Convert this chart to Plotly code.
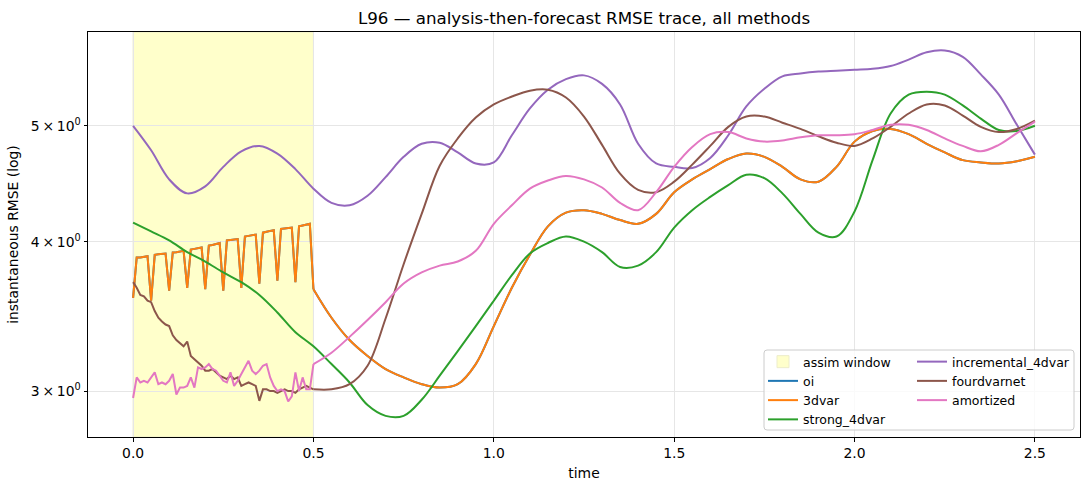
import math
import plotly.graph_objects as go

# ---------------- data ----------------
t_win = [round(0.01 * i, 2) for i in range(51)]        # 0.00 .. 0.50 (dt = 0.01)
t_fc = [round(0.5 + 0.05 * i, 2) for i in range(41)]   # 0.50 .. 2.50
t_all = [round(0.05 * i, 2) for i in range(51)]        # 0.00 .. 2.50

var3d_win = [3.59, 3.88, 3.88, 3.885, 3.89, 3.57, 3.90, 3.905, 3.91, 3.91,
             3.64, 3.918, 3.92, 3.925, 3.93, 3.66, 3.94, 3.945, 3.95, 3.955,
             3.65, 3.97, 3.975, 3.98, 3.99, 3.64, 4.01, 4.013, 4.017, 4.02,
             3.66, 4.04, 4.045, 4.05, 4.055, 3.69, 4.07, 4.077, 4.083, 4.09,
             3.71, 4.10, 4.103, 4.107, 4.11, 3.70, 4.12, 4.127, 4.133, 4.14,
             3.65]
var3d_fc = [3.65, 3.455, 3.31, 3.21, 3.13, 3.08, 3.04, 3.02, 3.04, 3.16,
            3.40, 3.66, 3.90, 4.12, 4.23, 4.25, 4.22, 4.17, 4.14, 4.22,
            4.40, 4.51, 4.60, 4.69, 4.74, 4.71, 4.62, 4.51, 4.49, 4.62,
            4.85, 4.95, 4.97, 4.92, 4.83, 4.75, 4.68, 4.66, 4.65, 4.67,
            4.71]
oi_win = list(var3d_win)
oi_fc = list(var3d_fc)

strong_all = [4.15, 4.08, 4.01, 3.92, 3.85, 3.77, 3.70, 3.61, 3.49, 3.36,
              3.27, 3.16, 3.05, 2.92, 2.86, 2.86, 2.95, 3.09, 3.24, 3.40,
              3.57, 3.75, 3.91, 3.99, 4.04, 4.00, 3.92, 3.81, 3.82, 3.92,
              4.11, 4.25, 4.36, 4.46, 4.55, 4.52, 4.39, 4.22, 4.07, 4.04,
              4.24, 4.68, 5.12, 5.31, 5.34, 5.31, 5.20, 5.07, 4.96, 4.95,
              5.00]

incr_all = [5.00, 4.77, 4.51, 4.39, 4.45, 4.62, 4.76, 4.81, 4.74, 4.60,
            4.43, 4.31, 4.29, 4.37, 4.53, 4.71, 4.83, 4.84, 4.75, 4.65,
            4.66, 4.91, 5.17, 5.36, 5.47, 5.51, 5.42, 5.21, 4.83, 4.65,
            4.62, 4.61, 4.70, 4.91, 5.19, 5.37, 5.50, 5.53, 5.55, 5.56,
            5.57, 5.58, 5.61, 5.68, 5.76, 5.78, 5.71, 5.52, 5.31, 5.01,
            4.73]

fvn_win = [3.70, 3.66, 3.61, 3.60, 3.57, 3.56, 3.50, 3.455, 3.43, 3.41,
           3.40, 3.34, 3.31, 3.29, 3.27, 3.30, 3.21, 3.19, 3.17, 3.15,
           3.12, 3.12, 3.13, 3.11, 3.09, 3.08, 3.07, 3.09, 3.07, 3.08,
           3.03, 3.04, 3.05, 3.04, 3.03, 2.944, 3.01, 3.01, 3.00, 3.00,
           2.99, 3.00, 3.01, 3.00, 3.00, 2.99, 3.01, 3.02, 3.03, 3.02,
           3.01]
fvn_fc = [3.01, 3.01, 3.04, 3.15, 3.45, 3.83, 4.22, 4.63, 4.88, 5.08,
          5.21, 5.29, 5.35, 5.36, 5.28, 5.09, 4.82, 4.56, 4.42, 4.40,
          4.49, 4.64, 4.81, 4.99, 5.09, 5.09, 5.03, 4.97, 4.90, 4.84,
          4.81, 4.88, 4.99, 5.12, 5.21, 5.20, 5.10, 4.99, 4.94, 4.97,
          5.05]

amo_win = [2.96, 3.08, 3.05, 3.06, 3.05, 3.08, 3.11, 3.04, 3.05, 3.04,
           3.06, 3.10, 2.98, 3.02, 3.02, 3.03, 3.08, 3.02, 3.14, 3.13,
           3.14, 3.16, 3.13, 3.12, 3.09, 3.06, 3.05, 3.11, 3.03, 3.06,
           3.10, 3.14, 3.18, 3.12, 3.10, 3.12, 3.15, 3.16, 3.08, 3.03,
           3.00, 3.01, 3.00, 2.94, 2.97, 3.11, 3.00, 3.08, 3.01, 3.01,
           3.16]
amo_fc = [3.16, 3.23, 3.33, 3.44, 3.56, 3.69, 3.77, 3.82, 3.85, 3.93,
          4.14, 4.29, 4.43, 4.50, 4.54, 4.51, 4.44, 4.31, 4.25, 4.40,
          4.62, 4.80, 4.92, 4.94, 4.88, 4.85, 4.86, 4.89, 4.91, 4.91,
          4.92, 4.96, 5.01, 5.01, 4.96, 4.88, 4.81, 4.76, 4.82, 4.93,
          5.04]

assim_window = (0.0, 0.5)
x_ticks = [0.0, 0.5, 1.0, 1.5, 2.0, 2.5]
x_ticktext = ["0.0", "0.5", "1.0", "1.5", "2.0", "2.5"]
y_ticks = [3, 4, 5]
y_ticktext = ["3\u2009×\u200910<sup>0</sup>", "4\u2009×\u200910<sup>0</sup>", "5\u2009×\u200910<sup>0</sup>"]

# ---------------- styling ----------------
FONT = "DejaVu Sans"
C = {"oi": "#1f77b4", "3dvar": "#ff7f0e", "strong_4dvar": "#2ca02c",
     "incremental_4dvar": "#9467bd", "fourdvarnet": "#8c564b", "amortized": "#e377c2"}
LW = 2

fig = go.Figure()


def add_split(name, tw, yw, tf, yf, legend):
    fig.add_trace(go.Scatter(x=tw, y=yw, mode="lines", name=name, legendgroup=name,
                             showlegend=False, line=dict(color=C[name], width=LW, shape="linear"),
                             legend=legend))
    fig.add_trace(go.Scatter(x=tf, y=yf, mode="lines", name=name, legendgroup=name,
                             showlegend=True, line=dict(color=C[name], width=LW, shape="spline", smoothing=1.0),
                             legend=legend))


def add_smooth(name, t, y, legend):
    fig.add_trace(go.Scatter(x=t, y=y, mode="lines", name=name, legendgroup=name,
                             showlegend=True, line=dict(color=C[name], width=LW, shape="spline", smoothing=1.0),
                             legend=legend))


add_split("oi", t_win, oi_win, t_fc, oi_fc, "legend")
add_split("3dvar", t_win, var3d_win, t_fc, var3d_fc, "legend")
add_smooth("strong_4dvar", t_all, strong_all, "legend")
add_smooth("incremental_4dvar", t_all, incr_all, "legend2")
add_split("fourdvarnet", t_win, fvn_win, t_fc, fvn_fc, "legend2")
add_split("amortized", t_win, amo_win, t_fc, amo_fc, "legend2")

fig.add_vrect(x0=assim_window[0], x1=assim_window[1], fillcolor="yellow", opacity=0.2,
              line=dict(color="rgb(170,170,0)", width=1), layer="below",
              showlegend=True, name="assim window", legend="legend", legendrank=1)

# geometry of the plot area (px)
W, H = 1090, 490
ML, MR, MT, MB = 88, 10, 32, 53
PW, PH = W - ML - MR, H - MT - MB


def px2paper_x(px):
    return (px - ML) / PW


def px2paper_y(py):
    return (H - MB - py) / PH


# legend frame (rounded box like matplotlib)
bx0, bx1, by0, by1 = px2paper_x(764), px2paper_x(1074), px2paper_y(430), px2paper_y(350)
rx, ry = 3 / PW, 3 / PH
path = (f"M{bx0+rx},{by0} L{bx1-rx},{by0} Q{bx1},{by0} {bx1},{by0+ry} "
        f"L{bx1},{by1-ry} Q{bx1},{by1} {bx1-rx},{by1} L{bx0+rx},{by1} "
        f"Q{bx0},{by1} {bx0},{by1-ry} L{bx0},{by0+ry} Q{bx0},{by0} {bx0+rx},{by0} Z")
fig.add_shape(type="path", path=path, xref="paper", yref="paper",
              fillcolor="rgba(255,255,255,0.8)", line=dict(color="#cccccc", width=1), layer="above")

axis_common = dict(showline=True, linecolor="black", linewidth=1, mirror=True,
                   ticks="outside", ticklen=3.5, tickwidth=1, tickcolor="black",
                   showgrid=True, gridcolor="#e6e6e6", gridwidth=1, zeroline=False,
                   tickfont=dict(family=FONT, size=13.9, color="black"))

fig.update_xaxes(range=[-0.125, 2.625], tickvals=x_ticks, ticktext=x_ticktext,
                 title=dict(text="time", font=dict(family=FONT, size=13.9), standoff=8),
                 **axis_common)
fig.update_yaxes(type="log", range=[math.log10(2.746), math.log10(5.99)],
                 tickvals=y_ticks, ticktext=y_ticktext,
                 title=dict(text="instantaneous RMSE (log)", font=dict(family=FONT, size=13.9), standoff=8),
                 **axis_common)

leg_common = dict(bgcolor="rgba(0,0,0,0)", borderwidth=0, orientation="v",
                  font=dict(family=FONT, size=12.5, color="black"),
                  xanchor="left", yanchor="top", traceorder="normal")
fig.update_layout(
    width=W, height=H, margin=dict(l=ML, r=MR, t=MT, b=MB),
    plot_bgcolor="white", paper_bgcolor="white",
    font=dict(family=FONT, size=13.9, color="black"),
    title=dict(text="L96 — analysis-then-forecast RMSE trace, all methods",
               font=dict(family=FONT, size=16.7, color="black"),
               x=0.5, xref="paper", xanchor="center", y=1 - 18 / H, yref="container", yanchor="middle"),
    legend=dict(x=px2paper_x(763), y=px2paper_y(347), **leg_common),
    legend2=dict(x=px2paper_x(912), y=px2paper_y(347), **leg_common),
    showlegend=True,
)

fig.write_html("out.html")
